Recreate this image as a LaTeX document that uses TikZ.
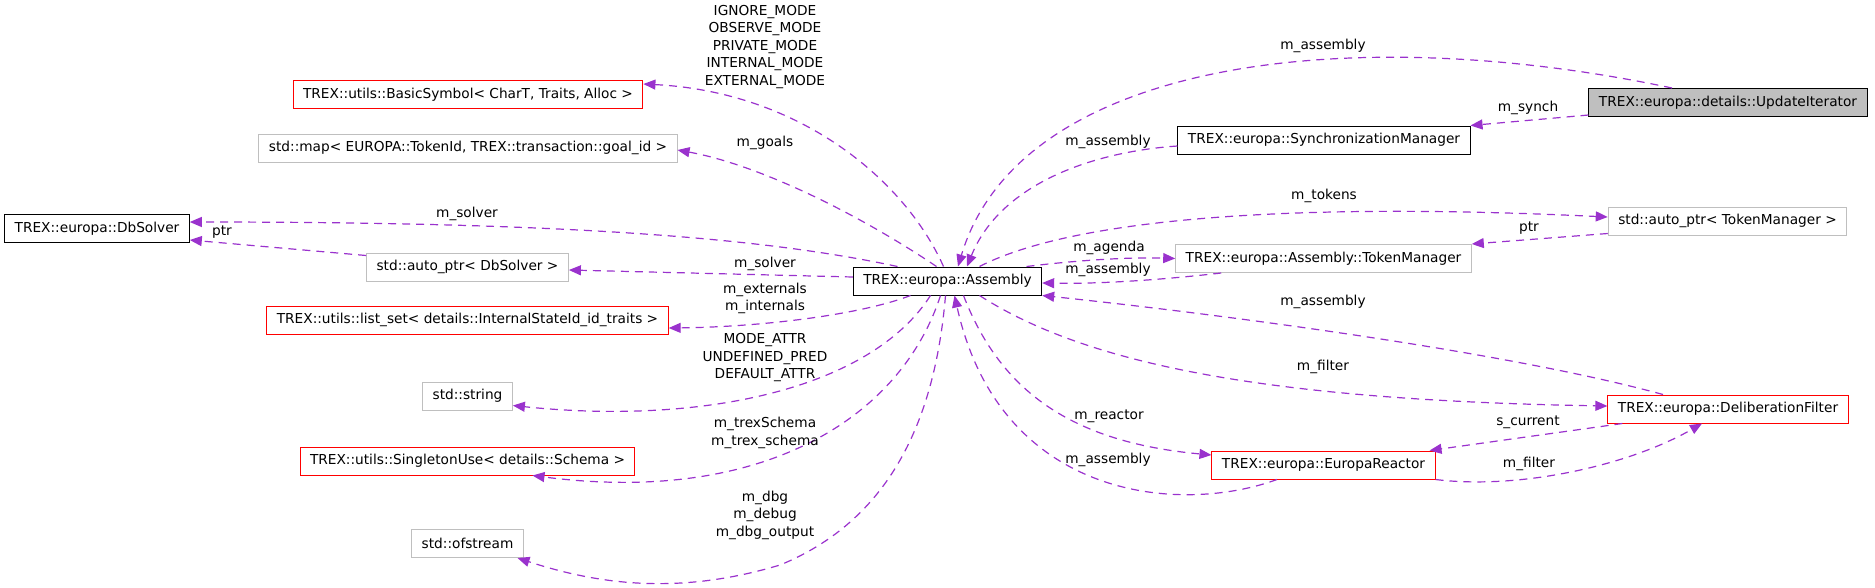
\documentclass[tikz,border=0pt]{standalone}
\usepackage{fontspec}
\setmainfont{DejaVu Sans}
\usepackage{tikz}
\usetikzlibrary{arrows.meta}
\definecolor{dxpurple}{HTML}{9A32CD}
\definecolor{dxred}{HTML}{FF0000}
\definecolor{dxgray}{HTML}{BFBFBF}
\newcommand{\dxfont}{\fontsize{13.7}{17.5}\selectfont}
\tikzset{cls/.style={rectangle, draw, line width=1pt, inner xsep=10pt, inner ysep=0pt, minimum height=28pt, font=\dxfont}}
\tikzset{clsblack/.style={cls, draw=black}}
\tikzset{clsred/.style={cls, draw=dxred}}
\tikzset{clsgray/.style={cls, draw=dxgray}}
\tikzset{clsroot/.style={cls, draw=black, fill=dxgray}}
\tikzset{uses/.style={draw=dxpurple, line width=1.2pt, dash pattern=on 8pt off 6pt, -{Triangle[length=12pt,width=10pt]}}}
\tikzset{lbl/.style={font=\dxfont, align=center, inner sep=0pt}}

\begin{document}
\begin{tikzpicture}[x=1pt, y=-1pt]
  \useasboundingbox (0,0) rectangle (1875,587);

  % --- classes ---
  \node[clsroot]  (ui)        at (1728,102.5) {TREX::europa::details::UpdateIterator};
  \node[clsblack] (asm)       at (947.5,281)  {TREX::europa::Assembly};
  \node[clsblack] (sync)      at (1324,140)   {TREX::europa::SynchronizationManager};
  \node[clsgray]  (tokmgr)    at (1323.5,258.5) {TREX::europa::Assembly::TokenManager};
  \node[clsgray]  (tokptr)    at (1727.5,221) {std::auto\_ptr< TokenManager >};
  \node[clsred]   (delib)     at (1728,409)   {TREX::europa::DeliberationFilter};
  \node[clsred]   (reactor)   at (1323.5,465) {TREX::europa::EuropaReactor};
  \node[clsred]   (basicsym)  at (468,94.5)   {TREX::utils::BasicSymbol< CharT, Traits, Alloc >};
  \node[clsgray]  (goalmap)   at (468,148)    {std::map< EUROPA::TokenId, TREX::transaction::goal\_id >};
  \node[clsblack] (dbsolver)  at (97,228.5)   {TREX::europa::DbSolver};
  \node[clsgray]  (dbptr)     at (467.5,267)  {std::auto\_ptr< DbSolver >};
  \node[clsred]   (listset)   at (467.5,320)  {TREX::utils::list\_set< details::InternalStateId\_id\_traits >};
  \node[clsgray]  (str)       at (467.5,396)  {std::string};
  \node[clsred]   (singleton) at (467.5,461)  {TREX::utils::SingletonUse< details::Schema >};
  \node[clsgray]  (ofs)       at (467.5,543.5) {std::ofstream};

  % --- members of Assembly, left side ---
  \draw[uses] ([xshift=-4pt]asm.north) .. controls (905,180) and (800,92) .. ([yshift=-4pt]basicsym.north east);
  \node[lbl] (lmodes) at (765,47) {IGNORE\_MODE\\OBSERVE\_MODE\\PRIVATE\_MODE\\INTERNAL\_MODE\\EXTERNAL\_MODE};
  \draw[uses] ([xshift=-11pt]asm.north) .. controls (860,215) and (760,165) .. ([yshift=-2pt]goalmap.east);
  \node[lbl] (lgoals) at (765,143) {m\_goals};
  \draw[uses] ([xshift=-50pt]asm.north) .. controls (760,237) and (560,222) .. ([yshift=6.5pt]dbsolver.east);
  \node[lbl] (lsolvera) at (467,214) {m\_solver};
  \draw[uses] ([yshift=4pt]asm.west) -- ([yshift=-3pt]dbptr.east);
  \node[lbl] (lsolverb) at (765,264) {m\_solver};
  \draw[uses] ([yshift=-3pt]dbptr.north west) -- ([yshift=-11.5pt]dbsolver.east);
  \node[lbl] (lptra) at (222,232) {ptr};
  \draw[uses] ([xshift=-37pt]asm.south) .. controls (860,315) and (760,327) .. ([yshift=-8pt]listset.east);
  \node[lbl] (lext) at (765,298.5) {m\_externals\\m\_internals};
  \draw[uses] ([xshift=-17pt]asm.south) .. controls (870,390) and (700,425) .. ([yshift=5pt]str.south east);
  \node[lbl] (lattr) at (765,358) {MODE\_ATTR\\UNDEFINED\_PRED\\DEFAULT\_ATTR};
  \draw[uses] ([xshift=-7pt]asm.south) .. controls (900,420) and (760,505) .. ([xshift=65pt]singleton.south);
  \node[lbl] (lschema) at (765,433) {m\_trexSchema\\m\_trex\_schema};
  \draw[uses] ([xshift=-2pt]asm.south) .. controls (935,420) and (890,520) .. (780,565)
              .. controls (680,595) and (600,585) .. ([xshift=50pt]ofs.south);
  \node[lbl] (ldbg) at (765,515) {m\_dbg\\m\_debug\\m\_dbg\_output};

  % --- right side ---
  \draw[uses] ([xshift=-56pt]ui.north) .. controls (1350,20) and (1020,60) .. ([xshift=10.5pt]asm.north);
  \node[lbl] (lasmui) at (1323,46) {m\_assembly};
  \draw[uses] ([yshift=2pt]ui.south west) -- (sync.north east);
  \node[lbl] (lsynch) at (1528,108) {m\_synch};
  \draw[uses] ([yshift=-6pt]sync.west) .. controls (1090,152) and (1000,185) .. ([xshift=19.5pt]asm.north);
  \node[lbl] (lasmsync) at (1108,142) {m\_assembly};
  \draw[uses] ([xshift=32pt]asm.north) .. controls (1060,225) and (1250,200) .. ([yshift=4pt]tokptr.west);
  \node[lbl] (ltokens) at (1324,196) {m\_tokens};
  \draw[uses] ([yshift=2pt]tokptr.south west) -- (tokmgr.north east);
  \node[lbl] (lptrb) at (1529,228) {ptr};
  \draw[uses] ([xshift=79pt]asm.north) .. controls (1080,260) and (1130,257) .. (tokmgr.west);
  \node[lbl] (lagenda) at (1109,248) {m\_agenda};
  \draw[uses] ([xshift=46pt]tokmgr.south west) .. controls (1160,280) and (1100,284) .. ([yshift=-2pt]asm.east);
  \node[lbl] (lasmtok) at (1108,270) {m\_assembly};
  \draw[uses] ([xshift=-65pt]delib.north) .. controls (1500,350) and (1200,312) .. (asm.south east);
  \node[lbl] (lasmdel) at (1323,302) {m\_assembly};
  \draw[uses] ([xshift=32pt]asm.south) .. controls (1080,360) and (1250,400) .. ([yshift=3pt]delib.west);
  \node[lbl] (lfiltera) at (1323,367) {m\_filter};
  \draw[uses] ([xshift=16pt]asm.south) .. controls (1000,390) and (1070,442) .. ([yshift=10pt]reactor.west);
  \node[lbl] (lreactor) at (1109,416) {m\_reactor};
  \draw[uses] ([xshift=-46.5pt]reactor.south) .. controls (1180,515) and (1000,500) .. ([xshift=7pt]asm.south);
  \node[lbl] (lasmreac) at (1108,460) {m\_assembly};
  \draw[uses] ([xshift=15pt]delib.south west) -- ([xshift=-6pt]reactor.north east);
  \node[lbl] (lcurrent) at (1528,422) {s\_current};
  \draw[uses] (reactor.south east) .. controls (1520,490) and (1630,465) .. ([xshift=-26pt]delib.south);
  \node[lbl] (lfilterb) at (1529,464) {m\_filter};
\end{tikzpicture}
\end{document}
